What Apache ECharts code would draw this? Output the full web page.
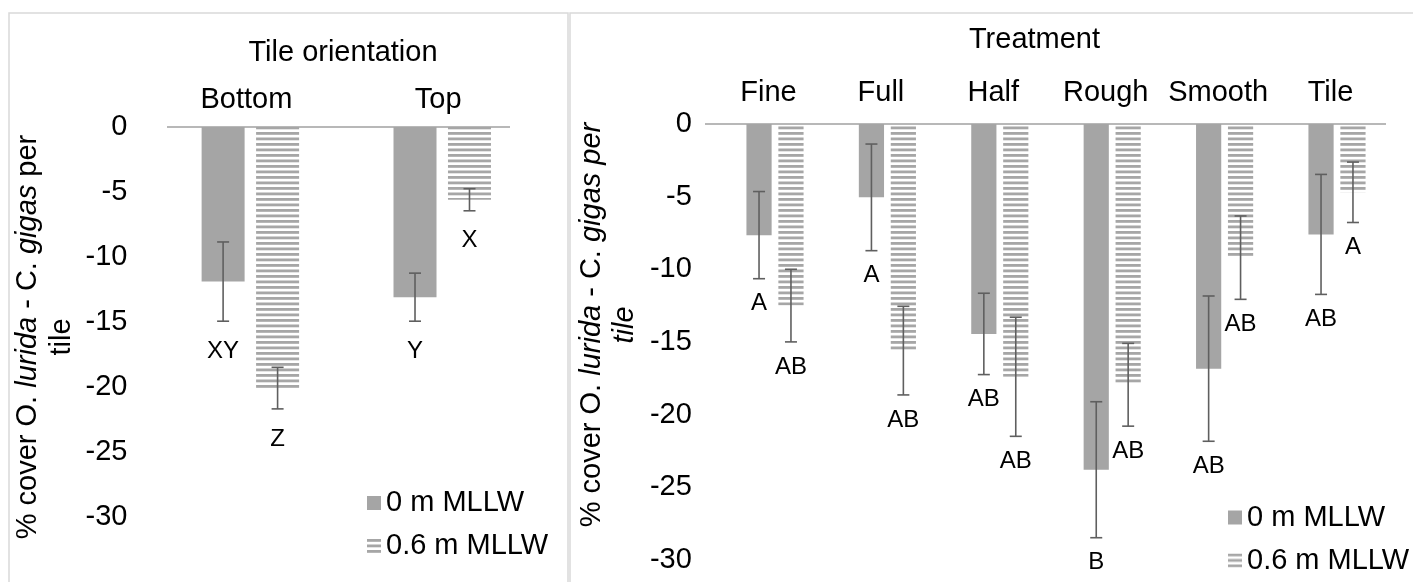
<!DOCTYPE html>
<html>
<head>
<meta charset="utf-8">
<script src="https://cdn.jsdelivr.net/npm/echarts@6/dist/echarts.min.js"></script>
<style>
  html, body { margin: 0; padding: 0; background: #ffffff; }
  #chart { width: 1413px; height: 582px; }
</style>
</head>
<body>
<div id="chart"></div>
<script>
// ---- Tile orientation panel ----
const orientCats   = ['Bottom', 'Top'];
const orient0      = [-11.9, -13.1];
const orient0Err   = [3.05, 1.85];
const orient06     = [-20.1, -5.6];
const orient06Err  = [1.6, 0.85];
const orient0Grp   = ['XY', 'Y'];
const orient06Grp  = ['Z', 'X'];

// ---- Treatment panel ----
const treatCats    = ['Fine', 'Full', 'Half', 'Rough', 'Smooth', 'Tile'];
const treat0       = [-7.65, -5.05, -14.45, -23.8, -16.84, -7.6];
const treat0Err    = [3.0, 3.67, 2.8, 4.68, 5.0, 4.13];
const treat06      = [-12.5, -15.6, -17.4, -17.95, -9.2, -4.7];
const treat06Err   = [2.5, 3.05, 4.1, 2.85, 2.87, 2.08];
const treat0Grp    = ['A', 'A', 'AB', 'B', 'AB', 'AB'];
const treat06Grp   = ['AB', 'AB', 'AB', 'AB', 'AB', 'A'];

// ---- shared ----
const seriesNames  = ['0 m MLLW', '0.6 m MLLW'];
const yMin = -30, yMax = 0, yStep = 5;

const FONT = '"Liberation Sans", Arial, Helvetica, sans-serif';
const GREY = '#a5a5a5';
const ERR_COLOR = '#5f5f5f';
const GAP_RATIO = 0.267;

// horizontal-stripe fill for the 0.6 m bars
function stripeFill() {
  const c = document.createElement('canvas');
  c.width = 8; c.height = 11;
  const ctx = c.getContext('2d');
  ctx.fillStyle = '#a6a6a6';
  ctx.fillRect(0, 0, 8, 2.8);
  ctx.fillRect(0, 5.5, 8, 2.8);
  return { image: c, repeat: 'repeat' };
}
const STRIPES = stripeFill();

// error bars with the significance letter under the lower whisker
function errorSeries(axisIdx, means, errs, letters, side, barW, labelGap) {
  return {
    type: 'custom',
    xAxisIndex: axisIdx,
    yAxisIndex: axisIdx,
    z: 5,
    silent: true,
    data: means.map((m, i) => [i, m]),
    encode: { x: 0, y: 1 },
    renderItem: function (params, api) {
      const i = params.dataIndex;
      const m = means[i], e = errs[i];
      const hi = api.coord([i, m + e]);
      const lo = api.coord([i, m - e]);
      const x = hi[0] + side * barW * (1 + GAP_RATIO) / 2;
      const st = { stroke: ERR_COLOR, lineWidth: 1.6 };
      return {
        type: 'group',
        children: [
          { type: 'line', shape: { x1: x, y1: hi[1], x2: x, y2: lo[1] }, style: st },
          { type: 'line', shape: { x1: x - 6, y1: hi[1], x2: x + 6, y2: hi[1] }, style: st },
          { type: 'line', shape: { x1: x - 6, y1: lo[1], x2: x + 6, y2: lo[1] }, style: st },
          { type: 'text', x: x, y: lo[1] + labelGap,
            style: { text: letters[i], align: 'center', verticalAlign: 'middle',
                     fontSize: 24, fontFamily: FONT, fill: '#000' } }
        ]
      };
    }
  };
}

function xAxisFor(idx, cats, margin, shiftPad) {
  return {
    type: 'category', gridIndex: idx, position: 'top', data: cats,
    axisLine: { show: false }, axisTick: { show: false }, splitLine: { show: false },
    axisLabel: { fontSize: 29, fontFamily: FONT, color: '#000', margin: margin,
                 verticalAlign: 'middle', padding: [0, shiftPad, 0, 0], interval: 0 }
  };
}
function yAxisFor(idx) {
  return {
    type: 'value', gridIndex: idx, min: yMin, max: yMax, interval: yStep,
    axisLine: { show: false }, axisTick: { show: false }, splitLine: { show: false },
    axisLabel: { fontSize: 29, fontFamily: FONT, color: '#000', margin: 27 }
  };
}

const LEFT_BW = 43, RIGHT_BW = 25.2;

const chart = echarts.init(document.getElementById('chart'), null, { renderer: 'canvas' });

chart.setOption({
  animation: false,
  backgroundColor: '#ffffff',
  grid: [
    { left: 154.4, top: 127, width: 383.8, height: 389.7, containLabel: false, outerBoundsMode: 'none' },
    { left: 718.8, top: 124, width: 674.4, height: 435.8, containLabel: false, outerBoundsMode: 'none' }
  ],
  xAxis: [xAxisFor(0, orientCats, 27, 8), xAxisFor(1, treatCats, 31, 13)],
  yAxis: [yAxisFor(0), yAxisFor(1)],
  legend: [
    { orient: 'vertical', left: 362, top: 483, itemWidth: 14, itemHeight: 14, itemGap: 13,
      icon: 'rect', selectedMode: false, data: seriesNames,
      textStyle: { fontSize: 29, lineHeight: 30, fontFamily: FONT, color: '#000' } },
    { orient: 'vertical', left: 1223, top: 497.5, itemWidth: 14, itemHeight: 14, itemGap: 13,
      icon: 'rect', selectedMode: false, data: seriesNames,
      textStyle: { fontSize: 29, lineHeight: 30, fontFamily: FONT, color: '#000' } }
  ],
  series: [
    { name: seriesNames[0], type: 'bar', xAxisIndex: 0, yAxisIndex: 0, data: orient0,
      barWidth: LEFT_BW, itemStyle: { color: GREY } },
    { name: seriesNames[1], type: 'bar', xAxisIndex: 0, yAxisIndex: 0, data: orient06,
      barWidth: LEFT_BW, barGap: (GAP_RATIO * 100) + '%', itemStyle: { color: STRIPES } },
    { name: seriesNames[0], type: 'bar', xAxisIndex: 1, yAxisIndex: 1, data: treat0,
      barWidth: RIGHT_BW, itemStyle: { color: GREY } },
    { name: seriesNames[1], type: 'bar', xAxisIndex: 1, yAxisIndex: 1, data: treat06,
      barWidth: RIGHT_BW, barGap: (GAP_RATIO * 100) + '%', itemStyle: { color: STRIPES } },
    errorSeries(0, orient0, orient0Err, orient0Grp, -1, LEFT_BW, 30),
    errorSeries(0, orient06, orient06Err, orient06Grp, 1, LEFT_BW, 30),
    errorSeries(1, treat0, treat0Err, treat0Grp, -1, RIGHT_BW, 25),
    errorSeries(1, treat06, treat06Err, treat06Grp, 1, RIGHT_BW, 25)
  ]
});

// zero lines, panel frames and titles
const zeroL = chart.convertToPixel({ yAxisIndex: 0 }, 0);
const zeroR = chart.convertToPixel({ yAxisIndex: 1 }, 0);

function yTitle(x, y, italicTail) {
  const n = { fontSize: 29, fontFamily: FONT, fill: '#000', lineHeight: 33.4 };
  const it = Object.assign({}, n, { fontStyle: 'italic' });
  const text = italicTail
    ? '{n|% cover O. }{i|lurida}{n| - C. }{i|gigas per}\n{i|tile}'
    : '{n|% cover O. }{i|lurida}{n| - C. }{i|gigas}{n| per}\n{n|tile}';
  return {
    type: 'text', x: x, y: y, rotation: Math.PI / 2, silent: true,
    style: { text: text, align: 'center', verticalAlign: 'middle',
             fontSize: 29, fontFamily: FONT, fill: '#000', rich: { n: n, i: it } }
  };
}

chart.setOption({
  graphic: [
    { type: 'rect', silent: true, shape: { x: 9, y: 13, width: 559, height: 600 },
      style: { fill: 'none', stroke: '#d9d9d9', lineWidth: 1.5 } },
    { type: 'rect', silent: true, shape: { x: 570, y: 13, width: 900, height: 600 },
      style: { fill: 'none', stroke: '#d9d9d9', lineWidth: 1.5 } },
    { type: 'line', silent: true, shape: { x1: 167, y1: zeroL, x2: 510, y2: zeroL },
      style: { stroke: '#a0a0a0', lineWidth: 1.3 }, z: 1 },
    { type: 'line', silent: true, shape: { x1: 705, y1: zeroR, x2: 1386, y2: zeroR },
      style: { stroke: '#a0a0a0', lineWidth: 1.3 }, z: 1 },
    { type: 'text', x: 343, y: 53.3, silent: true,
      style: { text: 'Tile orientation', align: 'center', verticalAlign: 'middle',
               fontSize: 29, fontFamily: FONT, fill: '#000' } },
    { type: 'text', x: 1034.5, y: 40, silent: true,
      style: { text: 'Treatment', align: 'center', verticalAlign: 'middle',
               fontSize: 29, fontFamily: FONT, fill: '#000' } },
    yTitle(45, 337, false),
    yTitle(608.4, 325, true)
  ]
});
</script>
</body>
</html>
